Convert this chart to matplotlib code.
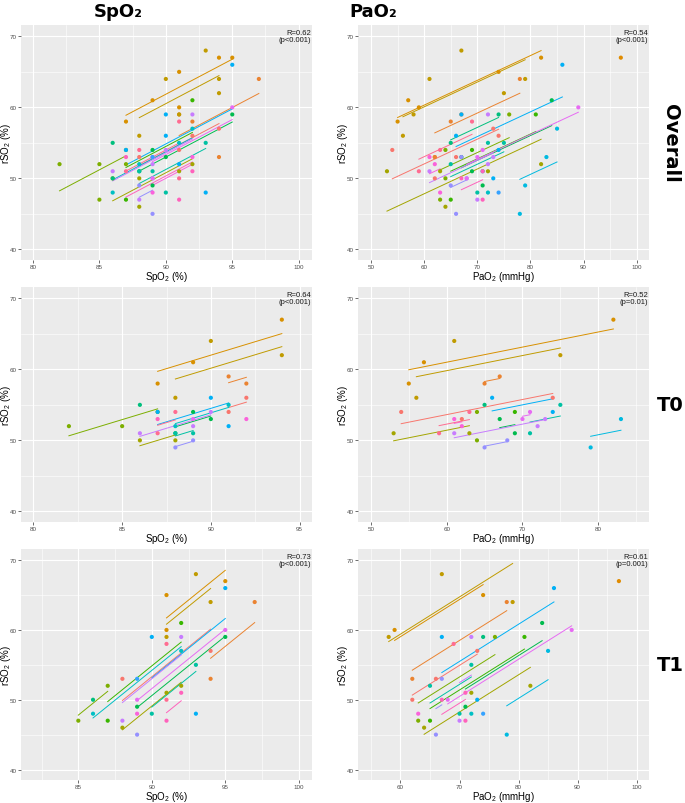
import numpy as np
import matplotlib
matplotlib.use("Agg")
import matplotlib.pyplot as plt
from matplotlib.ticker import MultipleLocator
from matplotlib.transforms import blended_transform_factory

plt.rcParams['font.family'] = ['Liberation Sans', 'DejaVu Sans']
plt.rcParams['mathtext.fontset'] = 'custom'
plt.rcParams['mathtext.rm'] = 'Liberation Sans'
plt.rcParams['mathtext.it'] = 'Liberation Sans:italic'
plt.rcParams['mathtext.bf'] = 'Liberation Sans:bold'

# ggplot hue colours, one per patient (21 = extra orange patient)
palette = ['#F8766D', '#EA8331', '#D89000', '#C09B00', '#A3A500', '#7CAE00', '#39B600',
           '#00BB4E', '#00BF7D', '#00C1A3', '#00BFC4', '#00BAE0', '#00B0F6', '#35A2FF',
           '#9590FF', '#C77CFF', '#E76BF3', '#FA62DB', '#FF62BC', '#FF6C91', '#E08B00']

# ---- T0, SpO2 vs rSO2
t0_spo2_subj = [1, 1, 2, 2, 3, 3, 3, 4, 4, 4, 5, 5, 6, 6, 6, 8, 8, 8, 9, 10, 10, 11, 11,
                13, 13, 13, 15, 15, 16, 16, 16, 17, 18, 19, 20, 20]
t0_spo2 = [91, 92, 91, 92, 87, 89, 94, 88, 90, 94, 86, 88, 82, 85, 87, 88, 89, 90, 86, 88, 89, 88, 91,
           87, 90, 91, 88, 89, 86, 89, 90, 89, 92, 87, 87, 88]
t0_spo2_rso2 = [54, 56, 59, 58, 58, 61, 67, 56, 64, 62, 50, 50, 52, 52, 54, 51, 54, 53, 55, 51, 51, 52, 55,
                54, 56, 52, 49, 50, 51, 52, 54, 53, 53, 53, 51, 54]

# ---- T1, SpO2 vs rSO2
t1_spo2_subj = [1, 1, 2, 2, 3, 3, 3, 4, 4, 4, 5, 5, 5, 6, 6, 7, 7, 8, 8, 9, 10, 10, 11, 11,
                13, 13, 13, 14, 15, 16, 16, 17, 17, 18, 19, 19, 20, 20]
t1_spo2 = [88, 94, 94, 97, 91, 91, 95, 91, 93, 94, 88, 91, 92, 85, 87, 87, 92, 89, 95, 86, 90, 93, 86, 92,
           90, 93, 95, 89, 89, 88, 92, 89, 95, 89, 91, 92, 91, 91]
t1_spo2_rso2 = [53, 57, 53, 64, 60, 65, 67, 59, 68, 64, 46, 51, 52, 47, 52, 47, 61, 49, 59, 50, 48, 55, 48, 57,
                59, 48, 66, 53, 45, 47, 59, 50, 60, 48, 47, 51, 50, 58]

# ---- T0, PaO2 vs rSO2
t0_pao2_subj = [1, 1, 1, 2, 2, 3, 3, 3, 4, 4, 4, 5, 5, 6, 6, 7, 8, 8, 9, 10, 10, 12, 12,
                13, 13, 15, 15, 16, 16, 16, 17, 17, 18, 18, 20, 20]
t0_pao2 = [54, 62, 74, 65, 67, 55, 57, 82, 56, 61, 75, 53, 63, 64, 64, 69, 67, 69, 65, 71, 75, 79, 83,
           66, 74, 65, 68, 61, 72, 73, 70, 71, 61, 62, 59, 63]
t0_pao2_rso2 = [54, 53, 56, 58, 59, 58, 61, 67, 56, 64, 62, 51, 51, 50, 54, 54, 53, 51, 55, 51, 55, 49, 53,
                56, 54, 49, 50, 51, 52, 53, 53, 54, 53, 52, 51, 54]

# ---- T1, PaO2 vs rSO2
t1_pao2_subj = [1, 1, 1, 2, 2, 3, 3, 4, 4, 4, 21, 5, 5, 5, 6, 6, 7, 7, 8, 8, 9, 10, 10, 10, 11,
                12, 12, 13, 13, 13, 14, 15, 15, 16, 16, 17, 17, 18, 19, 19, 19, 20]
t1_pao2 = [62, 66, 73, 62, 78, 59, 74, 58, 67, 79, 97, 64, 72, 82, 63, 76, 65, 81, 71, 84, 74, 65, 72, 70, 72,
           78, 85, 67, 73, 86, 74, 66, 67, 70, 72, 68, 89, 63, 67, 71, 71, 69]
t1_pao2_rso2 = [50, 53, 57, 53, 64, 60, 65, 59, 68, 64, 67, 46, 51, 52, 47, 59, 47, 59, 49, 61, 59, 52, 55, 48, 48,
                45, 57, 59, 50, 66, 48, 45, 53, 47, 59, 50, 60, 48, 50, 51, 47, 58]

r_text = [["R=0.62\n(p<0.001)", "R=0.54\n(p<0.001)"],
          ["R=0.64\n(p<0.001)", "R=0.52\n(p=0.01)"],
          ["R=0.73\n(p<0.001)", "R=0.61\n(p=0.001)"]]
row_names = ["Overall", "T0", "T1"]

panels = [
    [(t0_spo2_subj + t1_spo2_subj, t0_spo2 + t1_spo2, t0_spo2_rso2 + t1_spo2_rso2),
     (t0_pao2_subj + t1_pao2_subj, t0_pao2 + t1_pao2, t0_pao2_rso2 + t1_pao2_rso2)],
    [(t0_spo2_subj, t0_spo2, t0_spo2_rso2), (t0_pao2_subj, t0_pao2, t0_pao2_rso2)],
    [(t1_spo2_subj, t1_spo2, t1_spo2_rso2), (t1_pao2_subj, t1_pao2, t1_pao2_rso2)],
]

xlims = [[(79.1, 101), (47.55, 102.3)],
         [(79.3, 95.7), (48.3, 86.7)],
         [(81.1, 100.9), (52.8, 102.1)]]
xticks = [[np.arange(80, 101, 5), np.arange(50, 101, 10)],
          [np.arange(80, 96, 5), np.arange(50, 81, 10)],
          [np.arange(85, 101, 5), np.arange(60, 101, 10)]]
xlabels = ["SpO$_2$ (%)", "PaO$_2$ (mmHg)"]


def rmcorr_lines(subj, x, y):
    subj, x, y = np.array(subj), np.array(x, float), np.array(y, float)
    num = den = 0.0
    for s in np.unique(subj):
        m = subj == s
        if m.sum() < 2:
            continue
        dx = x[m] - x[m].mean()
        num += (dx * (y[m] - y[m].mean())).sum()
        den += (dx ** 2).sum()
    slope = num / den
    out = []
    for s in np.unique(subj):
        m = subj == s
        if m.sum() < 2 or np.ptp(x[m]) == 0:
            continue
        xs = np.array([x[m].min(), x[m].max()])
        out.append((s, xs, y[m].mean() + slope * (xs - x[m].mean())))
    return out


W, H = 685, 804
fig = plt.figure(figsize=(W / 100, H / 100), dpi=100)
cols = [(21, 312), (358, 649)]
rows = [(26, 261), (288, 523), (550, 781)]

for i, (y0, y1) in enumerate(rows):
    for j, (x0, x1) in enumerate(cols):
        ax = fig.add_axes([x0 / W, 1 - y1 / H, (x1 - x0) / W, (y1 - y0) / H])
        ax.set_facecolor('#EBEBEB')
        for sp in ax.spines.values():
            sp.set_visible(False)
        subj, x, y = panels[i][j]
        for s, xs, ys in rmcorr_lines(subj, x, y):
            ax.plot(xs, ys, color=palette[s - 1], lw=0.7, zorder=2)
        ax.scatter(x, y, c=[palette[s - 1] for s in subj], s=9, linewidths=0, zorder=3)

        ax.set_xlim(*xlims[i][j])
        ax.set_ylim(38.5, 71.6)
        ax.set_xticks(xticks[i][j])
        ax.set_yticks([40, 50, 60, 70])
        step = xticks[i][j][1] - xticks[i][j][0]
        ax.xaxis.set_minor_locator(MultipleLocator(step / 2))
        ax.yaxis.set_minor_locator(MultipleLocator(5))
        ax.grid(which='major', color='white', lw=0.8)
        ax.grid(which='minor', color='white', lw=0.4)
        ax.set_axisbelow(True)
        ax.tick_params(which='major', length=2, width=0.5, color='#333333',
                       labelsize=4.5, labelcolor='#4D4D4D', pad=1)
        ax.tick_params(which='minor', length=0)
        ax.set_xlabel(xlabels[j], fontsize=7)
        ax.set_ylabel("rSO$_2$ (%)", fontsize=7)
        ax.xaxis.set_label_coords(0.5, -0.068)
        ax.xaxis.label.set_va('center')
        ax.yaxis.set_label_coords(-0.053, 0.5)
        ax.yaxis.label.set_va('center')

        tr = blended_transform_factory(ax.transAxes, ax.transData)
        ax.text(0.997, 71.0, r_text[i][j], transform=tr, ha='right', va='top',
                fontsize=5.5, color='#1A1A1A', linespacing=0.95)

    mid = 1 - (y0 + y1) / 2 / H
    if i == 0:
        fig.text(670 / W, mid, row_names[i], rotation=-90, ha='center', va='center',
                 fontsize=14, fontweight='bold', family='DejaVu Sans')
    else:
        fig.text(670 / W, mid, row_names[i], ha='center', va='center',
                 fontsize=14, fontweight='bold', family='DejaVu Sans')

fig.text(118 / W, 1 - 12 / H, "SpO₂", ha='center', va='center', fontsize=13,
         fontweight='bold', family='DejaVu Sans')
fig.text(373 / W, 1 - 12 / H, "PaO₂", ha='center', va='center', fontsize=13,
         fontweight='bold', family='DejaVu Sans')

fig.savefig("out.png", dpi=100)
